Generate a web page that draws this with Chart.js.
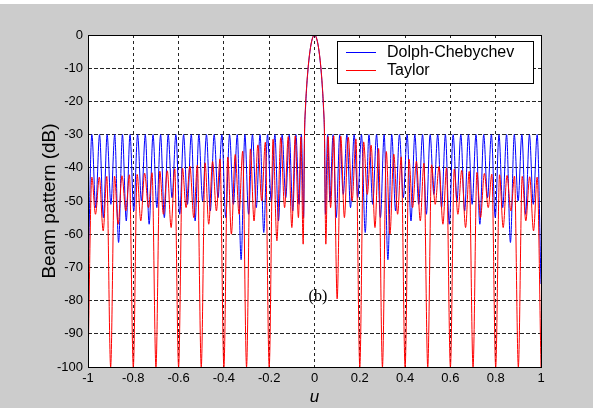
<!DOCTYPE html>
<html>
<head>
<meta charset="utf-8">
<script src="https://cdn.jsdelivr.net/npm/chart.js@4.4.1/dist/chart.umd.min.js"></script>
<style>
  html, body { margin: 0; padding: 0; background: #cccccc; }
  #wrap { position: absolute; left: 0; top: 0; width: 593px; height: 408px; }
  canvas { display: block; }
</style>
</head>
<body>
<div id="wrap"><canvas id="c" width="593" height="408"></canvas></div>
<script>
// ---------------- DATA ----------------
const seriesNames = ['Dolph-Chebychev', 'Taylor'];
const xTickLabels = ['-1', '-0.8', '-0.6', '-0.4', '-0.2', '0', '0.2', '0.4', '0.6', '0.8', '1'];
const yTickLabels = ['0', '-10', '-20', '-30', '-40', '-50', '-60', '-70', '-80', '-90', '-100'];

// main lobe (|u| values, both series share these positions)
const mainU = [0, 0.005, 0.01, 0.015, 0.02, 0.025, 0.03, 0.035, 0.04, 0.044];
const chebMainDb = [0, -0.3, -1.2, -2.7, -4.9, -7.8, -11.5, -16.2, -22.5, -30];
const taylorMainDb = [0, -0.3, -1.2, -2.7, -4.8, -7.6, -11.2, -15.8, -21.8, -29.5];

// Dolph-Chebychev sidelobes (|u| of nulls / peaks)
const chebNullU = [0.048, 0.068, 0.096, 0.127, 0.159, 0.191, 0.224, 0.257, 0.291, 0.324,
                   0.358, 0.392, 0.426, 0.460, 0.494, 0.527, 0.561, 0.595, 0.629, 0.663,
                   0.696, 0.730, 0.764, 0.798, 0.831, 0.865, 0.899, 0.932, 0.966, 1.000];
const chebPeakU = [0.058, 0.082, 0.1115, 0.143, 0.175, 0.2075, 0.2405, 0.274, 0.3075, 0.341,
                   0.375, 0.409, 0.443, 0.477, 0.5105, 0.544, 0.578, 0.612, 0.646, 0.6795,
                   0.713, 0.747, 0.781, 0.8145, 0.848, 0.882, 0.9155, 0.949, 0.983];
const chebNullDbRight = [-54, -50, -55, -48, -52, -49, -59.5, -51, -55, -67.7,
                         -53, -49, -56, -51, -54, -48, -52, -57, -50, -53,
                         -51, -57, -49, -55, -52, -62.5, -50, -54, -51, -75];
const chebNullDbLeft = [-55, -51, -53, -49, -56, -50, -59.5, -52, -54, -67.7,
                        -51, -55, -49, -53, -50, -56, -51, -54, -49, -55,
                        -52, -57, -50, -53, -56, -62.5, -51, -55, -52, -75];
const chebPeakDbRight = [-30, -30, -30, -30, -30, -30, -30, -30, -30, -30,
                         -30, -30, -30, -30, -30, -30, -30, -30, -30, -30,
                         -30, -30, -30, -30, -30, -30, -30, -30, -30];
const chebPeakDbLeft = [-30, -30, -30, -30, -30, -30, -30, -30, -30, -30,
                        -30, -30, -30, -30, -30, -30, -30, -30, -30, -30,
                        -30, -30, -30, -30, -30, -30, -30, -30, -30];

// Taylor sidelobes (|u| of nulls / peaks)
const taylorNullU = [0.050, 0.071, 0.100, 0.132, 0.166, 0.200, 0.233, 0.267, 0.300, 0.333,
                     0.367, 0.400, 0.433, 0.467, 0.500, 0.533, 0.567, 0.600, 0.633, 0.667,
                     0.700, 0.733, 0.767, 0.800, 0.833, 0.867, 0.900, 0.933, 0.967, 1.000];
const taylorPeakU = [0.060, 0.085, 0.116, 0.149, 0.183, 0.217, 0.250, 0.283, 0.317, 0.350,
                     0.383, 0.417, 0.450, 0.483, 0.517, 0.550, 0.583, 0.617, 0.650, 0.683,
                     0.717, 0.750, 0.783, 0.817, 0.850, 0.883, 0.917, 0.950, 0.983];
const taylorNullDbRight = [-63, -52, -79.5, -55, -50, -100, -48, -58, -100, -60,
                           -54, -100, -52, -56, -100, -51, -57, -100, -54, -58,
                           -100, -55, -52, -100, -58, -53, -100, -56, -59, -100];
const taylorNullDbLeft = [-63, -55, -58, -52, -62, -100, -50, -56, -100, -54,
                          -60, -100, -53, -57, -100, -55, -52, -100, -58, -54,
                          -100, -52, -56, -100, -53, -57, -100, -59, -54, -100];
const taylorPeakDbRight = [-30.6, -30.4, -30.5, -30.8, -31.3, -32.2, -33.2, -34.2, -35.1, -35.9,
                           -36.7, -37.4, -38.0, -38.6, -39.1, -39.6, -40.0, -40.4, -40.8, -41.1,
                           -41.4, -41.7, -41.9, -42.1, -42.3, -42.5, -42.6, -42.7, -42.8];
const taylorPeakDbLeft = [-30.7, -30.4, -30.6, -30.9, -31.4, -32.3, -33.1, -34.3, -35.0, -36.0,
                          -36.8, -37.3, -38.1, -38.5, -39.2, -39.5, -40.1, -40.3, -40.9, -41.0,
                          -41.5, -41.6, -42.0, -42.1, -42.4, -42.5, -42.6, -42.8, -42.8];

// ---------------- build point lists ----------------
function buildSeries(nullU, peakU, nullR, nullL, peakR, peakL, mainDb) {
  const pts = [];
  for (let i = nullU.length - 1; i >= 0; i--) {
    pts.push({ x: -nullU[i], y: nullL[i] });
    if (i > 0) pts.push({ x: -peakU[i - 1], y: peakL[i - 1] });
  }
  for (let j = mainU.length - 1; j >= 1; j--) pts.push({ x: -mainU[j], y: mainDb[j] });
  pts.push({ x: 0, y: mainDb[0] });
  for (let j = 1; j < mainU.length; j++) pts.push({ x: mainU[j], y: mainDb[j] });
  for (let i = 0; i < nullU.length; i++) {
    pts.push({ x: nullU[i], y: nullR[i] });
    if (i < peakU.length) pts.push({ x: peakU[i], y: peakR[i] });
  }
  return pts;
}

const chebPts = buildSeries(chebNullU, chebPeakU, chebNullDbRight, chebNullDbLeft,
                            chebPeakDbRight, chebPeakDbLeft, chebMainDb);
const taylorPts = buildSeries(taylorNullU, taylorPeakU, taylorNullDbRight, taylorNullDbLeft,
                              taylorPeakDbRight, taylorPeakDbLeft, taylorMainDb);

// ---------------- plugins ----------------
const bgPlugin = {
  id: 'bg',
  beforeDraw(chart) {
    const { ctx, chartArea: a } = chart;
    ctx.save();
    ctx.fillStyle = '#cccccc';
    ctx.fillRect(0, 0, chart.width, chart.height);
    ctx.fillStyle = '#ffffff';
    ctx.fillRect(0, 0, chart.width, 4);
    ctx.fillRect(a.left, a.top, a.right - a.left, a.bottom - a.top);
    ctx.restore();
  }
};

const overlayPlugin = {
  id: 'overlay',
  afterDraw(chart) {
    const { ctx, chartArea: a, scales } = chart;
    ctx.save();
    // axes box
    ctx.strokeStyle = '#000';
    ctx.lineWidth = 1;
    ctx.setLineDash([]);
    ctx.strokeRect(Math.round(a.left) + 0.5, Math.round(a.top) + 0.5,
                   Math.round(a.right - a.left), Math.round(a.bottom - a.top));
    // "(b)" annotation
    ctx.fillStyle = '#000';
    ctx.font = '16px "Liberation Serif", "Times New Roman", serif';
    ctx.textAlign = 'center';
    ctx.textBaseline = 'middle';
    ctx.fillText('(b)', scales.x.getPixelForValue(0.015), scales.y.getPixelForValue(-79));
    // legend
    const lx = 337, ly = 41, lw = 196, lh = 42;
    ctx.fillStyle = '#fff';
    ctx.fillRect(lx, ly, lw, lh);
    ctx.strokeStyle = '#000';
    ctx.strokeRect(lx + 0.5, ly + 0.5, lw, lh);
    const items = chart.data.datasets.map(d => ({ label: d.label, color: d.borderColor }));
    const rows = [52.5, 70.5];
    ctx.font = '16px "Liberation Sans", Arial, sans-serif';
    ctx.textAlign = 'left';
    items.forEach((it, i) => {
      ctx.strokeStyle = it.color;
      ctx.beginPath();
      ctx.moveTo(346, rows[i]);
      ctx.lineTo(376, rows[i]);
      ctx.stroke();
      ctx.fillStyle = '#000';
      ctx.fillText(it.label, 387, rows[i] + 0.5);
    });
    ctx.restore();
  }
};

// ---------------- chart ----------------
new Chart(document.getElementById('c'), {
  type: 'line',
  data: {
    datasets: [
      { label: seriesNames[0], data: chebPts, borderColor: '#0000ff', borderWidth: 1,
        pointRadius: 0, fill: false, cubicInterpolationMode: 'monotone', order: 1 },
      { label: seriesNames[1], data: taylorPts, borderColor: '#ff0000', borderWidth: 1,
        pointRadius: 0, fill: false, cubicInterpolationMode: 'monotone', order: 0 }
    ]
  },
  options: {
    responsive: false,
    animation: false,
    devicePixelRatio: 1,
    parsing: true,
    layout: { padding: { top: 35, right: 52, left: 0, bottom: 0 } },
    plugins: { legend: { display: false }, tooltip: { enabled: false } },
    scales: {
      x: {
        type: 'linear', min: -1, max: 1,
        afterFit(s) { s.height = 41; },
        afterBuildTicks(s) { s.ticks = xTickLabels.map(t => ({ value: parseFloat(t) })); },
        ticks: {
          color: '#000', padding: 4, maxRotation: 0, autoSkip: false,
          font: { family: '"Liberation Sans", Arial, sans-serif', size: 13 },
          callback: (v, i) => xTickLabels[i]
        },
        grid: { color: 'rgba(0,0,0,0.85)', lineWidth: 1, drawTicks: false },
        border: { display: false, dash: [3, 3] },
        title: {
          display: true, text: 'u', color: '#000',
          font: { family: '"Liberation Sans", Arial, sans-serif', size: 17, style: 'italic' },
          padding: { top: 0, bottom: 1 }
        }
      },
      y: {
        type: 'linear', min: -100, max: 0,
        afterFit(s) { s.width = 88; },
        afterBuildTicks(s) { s.ticks = yTickLabels.map(t => ({ value: parseFloat(t) })); },
        ticks: {
          color: '#000', padding: 5, autoSkip: false,
          font: { family: '"Liberation Sans", Arial, sans-serif', size: 13 },
          callback: (v) => yTickLabels.find(t => parseFloat(t) === v)
        },
        grid: { color: 'rgba(0,0,0,0.85)', lineWidth: 1, drawTicks: false },
        border: { display: false, dash: [4, 2] },
        title: {
          display: true, text: 'Beam pattern (dB)', color: '#000',
          font: { family: '"Liberation Sans", Arial, sans-serif', size: 19 },
          padding: { top: 38, bottom: 0 }
        }
      }
    }
  },
  plugins: [bgPlugin, overlayPlugin]
});
</script>
</body>
</html>
